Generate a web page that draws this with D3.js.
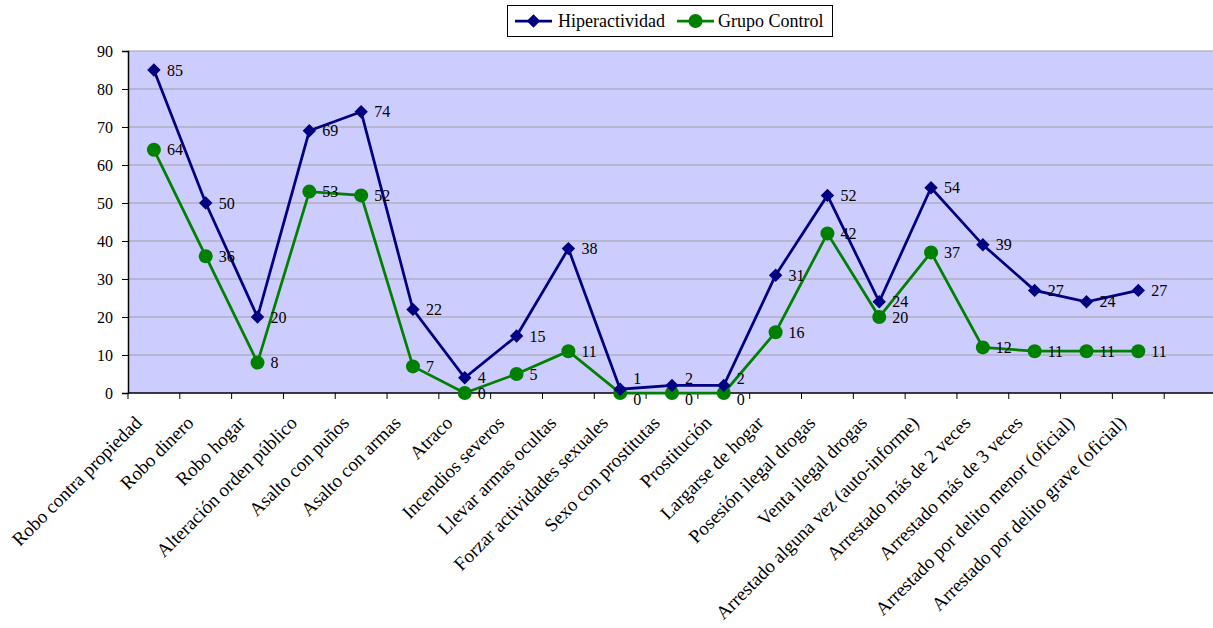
<!DOCTYPE html>
<html>
<head>
<meta charset="utf-8">
<script src="https://cdn.jsdelivr.net/npm/d3@7"></script>
<style>
  body { margin: 0; background: #fff; }
  svg { display: block; font-family: "Liberation Serif", "Times New Roman", serif; }
</style>
</head>
<body>
<div id="chart"></div>
<script>
const categories = [
  "Robo contra propiedad", "Robo dinero", "Robo hogar", "Alteración orden público",
  "Asalto con puños", "Asalto con armas", "Atraco", "Incendios severos",
  "Llevar armas ocultas", "Forzar actividades sexuales", "Sexo con prostitutas",
  "Prostitución", "Largarse de hogar", "Posesión ilegal drogas", "Venta ilegal drogas",
  "Arrestado alguna vez (auto-informe)", "Arrestado más de 2 veces",
  "Arrestado más de 3 veces", "Arrestado por delito menor (oficial)",
  "Arrestado por delito grave (oficial)", ""
];
const hiperactividad = [85, 50, 20, 69, 74, 22, 4, 15, 38, 1, 2, 2, 31, 52, 24, 54, 39, 27, 24, 27];
const grupoControl = [64, 36, 8, 53, 52, 7, 0, 5, 11, 0, 0, 0, 16, 42, 20, 37, 12, 11, 11, 11];
const yTicks = [0, 10, 20, 30, 40, 50, 60, 70, 80, 90];

const width = 1213, height = 628;
const plotLeft = 128, plotRight = 1216, plotTop = 51, plotBottom = 393;

const svg = d3.select("#chart").append("svg")
  .attr("width", width)
  .attr("height", height);

const x = d3.scaleBand().domain(categories.map((d, i) => i)).range([plotLeft, plotRight]);
const y = d3.scaleLinear().domain([0, 90]).range([plotBottom, plotTop]);

// plot background
svg.append("rect")
  .attr("x", plotLeft).attr("y", plotTop)
  .attr("width", plotRight - plotLeft).attr("height", plotBottom - plotTop)
  .attr("fill", "#ccccff");

// gridlines
svg.append("g").selectAll("line")
  .data(yTicks.filter(d => d > 0))
  .enter().append("line")
  .attr("x1", plotLeft).attr("x2", plotRight)
  .attr("y1", d => y(d)).attr("y2", d => y(d))
  .attr("stroke", "#a0a0a0")
  .attr("stroke-width", 1.2);

// y axis
const yAxis = svg.append("g")
  .attr("transform", `translate(${plotLeft},0)`)
  .call(d3.axisLeft(y).tickValues(yTicks).tickSize(6).tickPadding(9));
yAxis.select(".domain").attr("stroke", "#000").attr("stroke-width", 1.5);
yAxis.selectAll("line").attr("stroke", "#000");
yAxis.selectAll("text").attr("font-size", 16).attr("fill", "#000")
  .attr("font-family", "Liberation Serif");

// x axis with ticks at band boundaries
const xAxis = svg.append("g");
xAxis.append("line")
  .attr("x1", plotLeft).attr("x2", plotRight)
  .attr("y1", plotBottom).attr("y2", plotBottom)
  .attr("stroke", "#000").attr("stroke-width", 1.5);
xAxis.selectAll("line.tick")
  .data(categories.map((d, i) => i))
  .enter().append("line")
  .attr("class", "tick")
  .attr("x1", d => x(d)).attr("x2", d => x(d))
  .attr("y1", plotBottom).attr("y2", plotBottom + 6)
  .attr("stroke", "#000");
xAxis.selectAll("text")
  .data(categories)
  .enter().append("text")
  .attr("transform", (d, i) => `translate(${x(i) + x.bandwidth() / 2 - 11},${plotBottom + 31}) rotate(-45)`)
  .attr("text-anchor", "end")
  .attr("font-size", 19)
  .attr("fill", "#000")
  .text(d => d);

const cx = i => x(i) + x.bandwidth() / 2;

const series = [
  { name: "Hiperactividad", values: hiperactividad, color: "#000080", marker: "diamond" },
  { name: "Grupo Control", values: grupoControl, color: "#008000", marker: "circle" }
];

const line = d3.line().x((d, i) => cx(i)).y(d => y(d));

function drawMarker(g, type, color) {
  if (type === "diamond") {
    g.append("path")
      .attr("d", d3.symbol().type(d3.symbolDiamond2).size(115)())
      .attr("fill", color);
  } else {
    g.append("circle").attr("r", 7).attr("fill", color);
  }
}

// draw control first so hyper lines sit on top where they meet
series.slice().reverse().forEach(s => {
  svg.append("path")
    .datum(s.values)
    .attr("d", line)
    .attr("fill", "none")
    .attr("stroke", s.color)
    .attr("stroke-width", 2.75);
});

series.slice().reverse().forEach(s => {
  const pts = svg.append("g").selectAll("g")
    .data(s.values)
    .enter().append("g")
    .attr("transform", (d, i) => `translate(${cx(i)},${y(d)})`);
  pts.each(function() { drawMarker(d3.select(this), s.marker, s.color); });
});

// data labels: centred right of the point; when both series nearly coincide
// the upper label is lifted and the lower one dropped so they stay readable
function labelCenter(si, i) {
  const h = hiperactividad[i], c = grupoControl[i];
  const v = si === 0 ? h : c;
  if (Math.abs(h - c) < 3) {
    return si === 0 ? y(c) - 15 : y(c) + 6;
  }
  return y(v);
}

series.forEach((s, si) => {
  svg.append("g").selectAll("text")
    .data(s.values)
    .enter().append("text")
    .attr("x", (d, i) => cx(i) + 13)
    .attr("y", (d, i) => labelCenter(si, i) + 5.5)
    .attr("font-size", 16)
    .attr("fill", "#000")
    .text(d => d);
});

// legend
const legend = svg.append("g");
legend.append("rect")
  .attr("x", 507.5).attr("y", 5.5)
  .attr("width", 325).attr("height", 31)
  .attr("fill", "#fff").attr("stroke", "#000");

const legendItems = [
  { s: series[0], x0: 515, tx: 558 },
  { s: series[1], x0: 677, tx: 718 }
];
legendItems.forEach(it => {
  legend.append("line")
    .attr("x1", it.x0).attr("x2", it.x0 + 37)
    .attr("y1", 21).attr("y2", 21)
    .attr("stroke", it.s.color).attr("stroke-width", 2.75);
  const m = legend.append("g").attr("transform", `translate(${it.x0 + 18.5},21)`);
  drawMarker(m, it.s.marker, it.s.color);
  legend.append("text")
    .attr("x", it.tx).attr("y", 27)
    .attr("font-size", 18)
    .attr("fill", "#000")
    .text(it.s.name);
});
</script>
</body>
</html>
